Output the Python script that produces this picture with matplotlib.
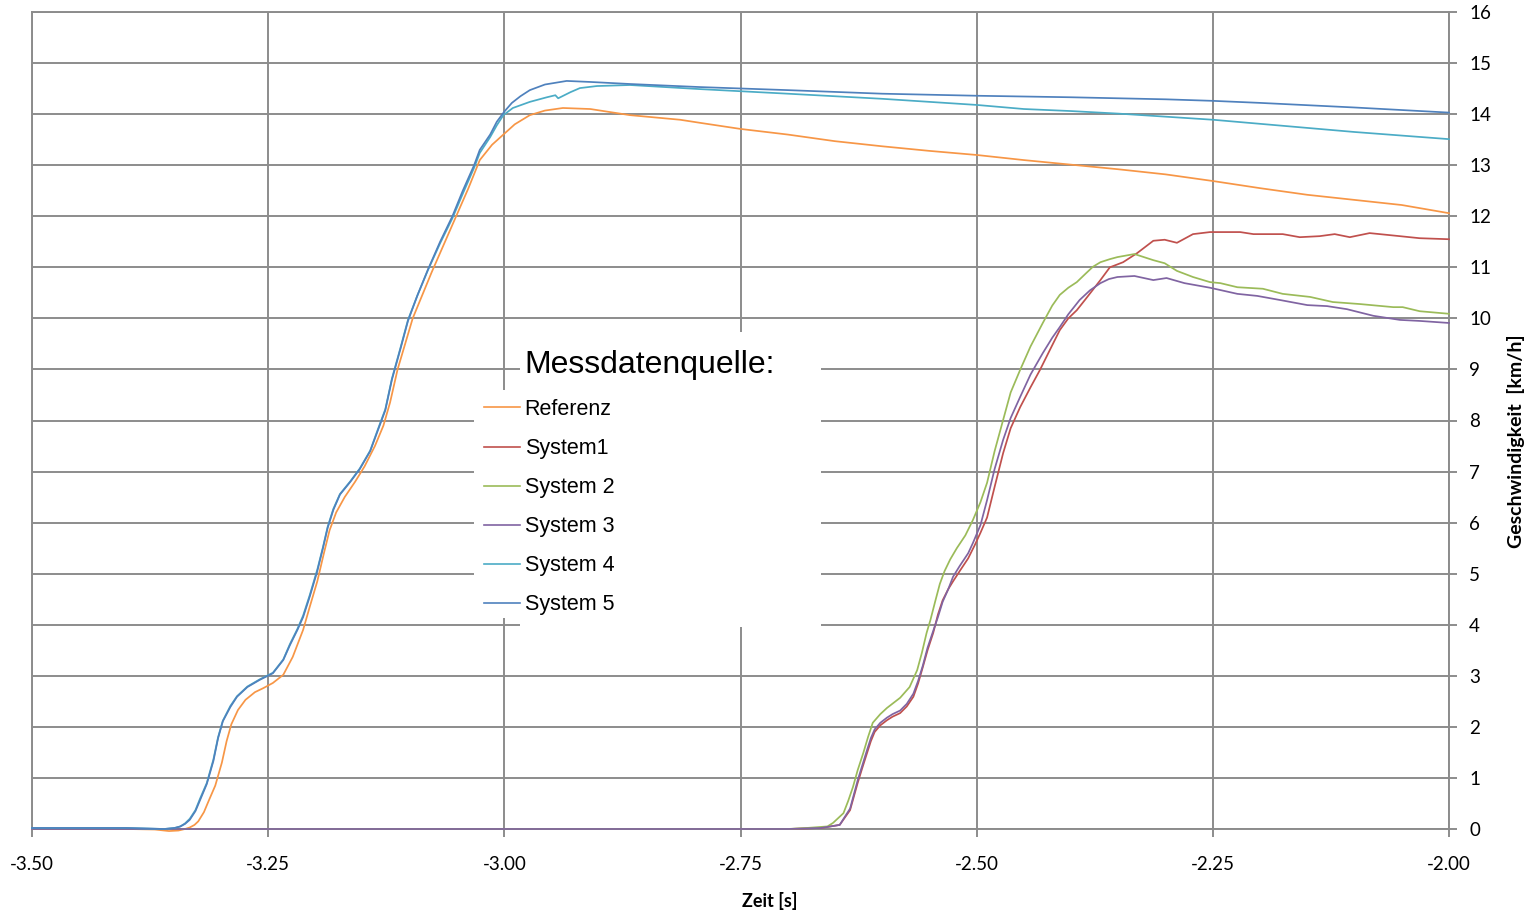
import matplotlib
matplotlib.use("Agg")
import matplotlib.pyplot as plt
from matplotlib.patches import Rectangle

# ---------------- data ----------------
ref_x = [-3.50, -3.40, -3.37, -3.355, -3.345, -3.338, -3.333, -3.328, -3.324, -3.318,
         -3.313, -3.306, -3.299, -3.294, -3.289, -3.282, -3.274, -3.264, -3.255, -3.245,
         -3.234, -3.224, -3.213, -3.206, -3.198, -3.191, -3.185, -3.178, -3.169, -3.158,
         -3.148, -3.137, -3.128, -3.121, -3.113, -3.105, -3.097, -3.087, -3.077, -3.064,
         -3.051, -3.038, -3.026, -3.013, -3.001, -2.989, -2.973, -2.957, -2.938, -2.909,
         -2.867, -2.814, -2.793, -2.750, -2.700, -2.650, -2.600, -2.550, -2.500, -2.450,
         -2.400, -2.350, -2.300, -2.250, -2.200, -2.150, -2.100, -2.050, -2.000]
ref_y = [0.0, 0.0, -0.01, -0.04, -0.03, 0.0, 0.03, 0.08, 0.15, 0.33,
         0.55, 0.85, 1.3, 1.72, 2.05, 2.33, 2.53, 2.68, 2.76, 2.86,
         3.02, 3.37, 3.9, 4.35, 4.85, 5.4, 5.85, 6.2, 6.5, 6.8,
         7.1, 7.5, 7.9, 8.35, 9.0, 9.5, 10.0, 10.45, 10.9, 11.45,
         12.0, 12.55, 13.1, 13.4, 13.6, 13.8, 13.98, 14.07, 14.12, 14.10,
         13.98, 13.89, 13.83, 13.71, 13.6, 13.47, 13.37, 13.28, 13.2, 13.1,
         13.01, 12.92, 12.82, 12.69, 12.55, 12.42, 12.32, 12.22, 12.06]

s1_x = [-3.50, -2.70, -2.665, -2.645, -2.634, -2.626, -2.621, -2.616, -2.612, -2.608,
        -2.602, -2.595, -2.589, -2.581, -2.574, -2.567, -2.562, -2.557, -2.552, -2.546,
        -2.541, -2.536, -2.530, -2.525, -2.518, -2.509, -2.502, -2.496, -2.489, -2.481,
        -2.472, -2.464, -2.454, -2.443, -2.433, -2.422, -2.412, -2.403, -2.394, -2.385,
        -2.377, -2.369, -2.359, -2.345, -2.330, -2.313, -2.301, -2.288, -2.271, -2.253,
        -2.221, -2.207, -2.176, -2.158, -2.137, -2.121, -2.105, -2.084, -2.052, -2.031,
        -2.000]
s1_y = [0.0, 0.0, 0.02, 0.08, 0.37, 0.9, 1.2, 1.49, 1.72, 1.9,
        2.03, 2.13, 2.2, 2.27, 2.4, 2.59, 2.85, 3.17, 3.5, 3.84,
        4.2, 4.48, 4.7, 4.85, 5.05, 5.3, 5.56, 5.8, 6.1, 6.7,
        7.36, 7.85, 8.26, 8.65, 8.99, 9.4, 9.77, 10.0, 10.16, 10.37,
        10.56, 10.75, 11.0, 11.1, 11.28, 11.52, 11.54, 11.48, 11.65, 11.69,
        11.69, 11.65, 11.65, 11.59, 11.61, 11.65, 11.59, 11.67, 11.61, 11.57,
        11.55]

s2_x = [-3.50, -2.70, -2.68, -2.658, -2.652, -2.641, -2.636, -2.631, -2.626, -2.620,
        -2.615, -2.610, -2.602, -2.595, -2.581, -2.571, -2.563, -2.558, -2.553, -2.549,
        -2.544, -2.539, -2.534, -2.528, -2.521, -2.512, -2.504, -2.496, -2.489, -2.481,
        -2.472, -2.464, -2.454, -2.443, -2.430, -2.420, -2.412, -2.403, -2.394, -2.385,
        -2.377, -2.369, -2.359, -2.351, -2.333, -2.313, -2.301, -2.288, -2.271, -2.253,
        -2.242, -2.224, -2.197, -2.176, -2.147, -2.123, -2.094, -2.059, -2.049, -2.031,
        -2.000]
s2_y = [0.0, 0.0, 0.02, 0.05, 0.12, 0.31, 0.55, 0.82, 1.15, 1.49,
        1.8, 2.08, 2.25, 2.37, 2.57, 2.78, 3.11, 3.45, 3.84, 4.09,
        4.45, 4.8, 5.05, 5.28, 5.5, 5.75, 6.05, 6.4, 6.78, 7.4,
        8.01, 8.55, 8.99, 9.45, 9.91, 10.25, 10.46, 10.6, 10.71, 10.87,
        11.01, 11.1, 11.16, 11.2, 11.26, 11.14, 11.08, 10.93, 10.81, 10.71,
        10.69, 10.61, 10.58, 10.48, 10.42, 10.32, 10.28, 10.22, 10.22, 10.14,
        10.09]

s3_x = [-3.50, -2.70, -2.665, -2.645, -2.634, -2.626, -2.621, -2.616, -2.612, -2.608,
        -2.602, -2.595, -2.589, -2.581, -2.574, -2.567, -2.562, -2.557, -2.552, -2.546,
        -2.541, -2.536, -2.530, -2.525, -2.518, -2.509, -2.504, -2.496, -2.489, -2.481,
        -2.472, -2.464, -2.454, -2.443, -2.430, -2.420, -2.412, -2.403, -2.391, -2.380,
        -2.369, -2.360, -2.351, -2.333, -2.313, -2.299, -2.280, -2.253, -2.224, -2.203,
        -2.179, -2.150, -2.129, -2.108, -2.080, -2.052, -2.031, -2.000]
s3_y = [0.0, 0.0, 0.02, 0.08, 0.4, 0.95, 1.25, 1.55, 1.78, 1.95,
        2.08, 2.18, 2.25, 2.32, 2.45, 2.65, 2.9, 3.2, 3.55, 3.88,
        4.15, 4.45, 4.7, 4.94, 5.15, 5.4, 5.6, 5.95, 6.44, 7.05,
        7.62, 8.05, 8.46, 8.9, 9.32, 9.62, 9.83, 10.08, 10.36, 10.55,
        10.69, 10.77, 10.81, 10.83, 10.75, 10.79, 10.69, 10.60, 10.48, 10.44,
        10.36, 10.26, 10.24, 10.18, 10.05, 9.97, 9.95, 9.91]

s4_x = [-3.50, -3.40, -3.36, -3.349, -3.343, -3.338, -3.333, -3.327, -3.322, -3.315,
        -3.308, -3.303, -3.298, -3.290, -3.283, -3.272, -3.259, -3.245, -3.234, -3.227,
        -3.219, -3.213, -3.206, -3.198, -3.192, -3.187, -3.181, -3.174, -3.163, -3.153,
        -3.142, -3.134, -3.126, -3.119, -3.110, -3.102, -3.092, -3.081, -3.068, -3.055,
        -3.044, -3.032, -3.026, -3.015, -3.008, -3.001, -2.991, -2.973, -2.955, -2.946,
        -2.943, -2.930, -2.920, -2.902, -2.867, -2.793, -2.700, -2.600, -2.500, -2.450,
        -2.400, -2.350, -2.300, -2.250, -2.200, -2.150, -2.100, -2.050, -2.000]
s4_y = [0.02, 0.02, 0.0, 0.02, 0.05, 0.11, 0.2, 0.37, 0.6, 0.9,
        1.36, 1.8, 2.12, 2.41, 2.6, 2.79, 2.93, 3.06, 3.32, 3.62,
        3.92, 4.18, 4.58, 5.08, 5.52, 5.92, 6.27, 6.56, 6.81, 7.06,
        7.41, 7.82, 8.22, 8.82, 9.42, 9.97, 10.45, 10.94, 11.47, 11.96,
        12.44, 12.95, 13.24, 13.55, 13.78, 13.98, 14.12, 14.24, 14.33, 14.37,
        14.31, 14.43, 14.51, 14.55, 14.57, 14.49, 14.40, 14.30, 14.18, 14.10,
        14.06, 14.01, 13.95, 13.89, 13.81, 13.73, 13.65, 13.58, 13.51]

s5_x = [-3.50, -3.40, -3.36, -3.349, -3.343, -3.338, -3.333, -3.327, -3.322, -3.315,
        -3.308, -3.303, -3.298, -3.290, -3.283, -3.272, -3.259, -3.245, -3.234, -3.227,
        -3.219, -3.213, -3.206, -3.198, -3.192, -3.187, -3.181, -3.174, -3.163, -3.153,
        -3.142, -3.134, -3.126, -3.119, -3.110, -3.102, -3.092, -3.081, -3.068, -3.055,
        -3.044, -3.032, -3.026, -3.015, -3.008, -3.000, -2.992, -2.983, -2.973, -2.957,
        -2.934, -2.909, -2.867, -2.793, -2.700, -2.600, -2.500, -2.400, -2.300, -2.250,
        -2.200, -2.100, -2.000]
s5_y = [0.02, 0.02, 0.0, 0.02, 0.05, 0.1, 0.18, 0.35, 0.57, 0.88,
        1.33, 1.78, 2.11, 2.39, 2.59, 2.78, 2.92, 3.05, 3.31, 3.6,
        3.9, 4.15, 4.55, 5.05, 5.5, 5.9, 6.25, 6.55, 6.8, 7.05,
        7.4, 7.8, 8.2, 8.8, 9.4, 9.95, 10.45, 10.95, 11.5, 12.0,
        12.5, 13.0, 13.3, 13.6, 13.85, 14.05, 14.22, 14.35, 14.47, 14.58,
        14.65, 14.63, 14.59, 14.53, 14.47, 14.40, 14.36, 14.33, 14.29, 14.26,
        14.22, 14.13, 14.03]

series_names = ["Referenz", "System1", "System 2", "System 3", "System 4", "System 5"]
series_colors = ["#F79646", "#C0504D", "#9BBB59", "#8064A2", "#4BACC6", "#4F81BD"]
series_x = [ref_x, s1_x, s2_x, s3_x, s4_x, s5_x]
series_y = [ref_y, s1_y, s2_y, s3_y, s4_y, s5_y]

x_ticks = [-3.50, -3.25, -3.00, -2.75, -2.50, -2.25, -2.00]
x_tick_labels = ["-3.50", "-3.25", "-3.00", "-2.75", "-2.50", "-2.25", "-2.00"]
y_ticks = list(range(0, 17))
y_tick_labels = [str(v) for v in y_ticks]

legend_title = "Messdatenquelle:"
x_label = "Zeit [s]"
y_label = "Geschwindigkeit  [km/h]"

# ---------------- figure ----------------
W, H = 1538, 914
fig = plt.figure(figsize=(W / 100, H / 100), dpi=100)


def fx(px):
    return px / W


def fy(py):
    return 1 - py / H


gc = "#8c8c8c"
ax = fig.add_axes([fx(32), fy(829), fx(1449) - fx(32), fy(12) - fy(829)])
ax.set_xlim(-3.5, -2.0)
ax.set_ylim(0, 16)

lines = []
for xs, ys, c, n in zip(series_x, series_y, series_colors, series_names):
    ln, = ax.plot(xs, ys, color=c, lw=1.25, label=n, zorder=4, clip_on=False,
                  solid_joinstyle="round")
    lines.append(ln)

ax.set_xticks(x_ticks)
ax.set_xticklabels(x_tick_labels)
ax.set_yticks(y_ticks)
ax.set_yticklabels(y_tick_labels)
ax.yaxis.tick_right()
ax.grid(True, color=gc, lw=1.4)
ax.set_axisbelow(True)
for sp in ax.spines.values():
    sp.set_color(gc)
    sp.set_linewidth(1.4)

ax.tick_params(axis="x", direction="out", length=5.5, width=1.4, color=gc, pad=14,
               labelsize=13.5, labelcolor="black")
ax.tick_params(axis="y", direction="out", length=5.5, width=1.4, color=gc, pad=9,
               labelsize=13.5, labelcolor="black", left=False, right=True)
for lab in ax.get_xticklabels() + ax.get_yticklabels():
    lab.set_family("Lato")

# white legend areas
for (x0, y0, x1, y1) in [(474, 390, 821, 618), (520, 332, 821, 627)]:
    r = Rectangle((fx(x0), fy(y1)), fx(x1) - fx(x0), fy(y0) - fy(y1),
                  transform=fig.transFigure, facecolor="white", edgecolor="none",
                  zorder=3, clip_on=False)
    ax.add_patch(r)

leg = ax.legend(handles=lines, loc="upper left", bbox_to_anchor=(fx(484), fy(399)),
                bbox_transform=fig.transFigure, frameon=False,
                prop=dict(family="Liberation Sans", size=15.5),
                handlelength=1.67, handletextpad=0.22, labelspacing=0.84,
                borderpad=0, borderaxespad=0)
for lh in leg.get_lines():
    lh.set_linewidth(1.2)
leg.set_zorder(5)

fig.text(fx(524), fy(365), legend_title, family="Liberation Sans", fontsize=23,
         ha="left", va="center")

fig.text(fx(770), fy(901), x_label, family="Lato", fontweight="bold", fontsize=13,
         ha="center", va="center")
fig.text(fx(1516), fy(441), y_label, family="Lato", fontweight="bold", fontsize=14,
         ha="center", va="center", rotation=90)

fig.savefig("out.png", dpi=100)
